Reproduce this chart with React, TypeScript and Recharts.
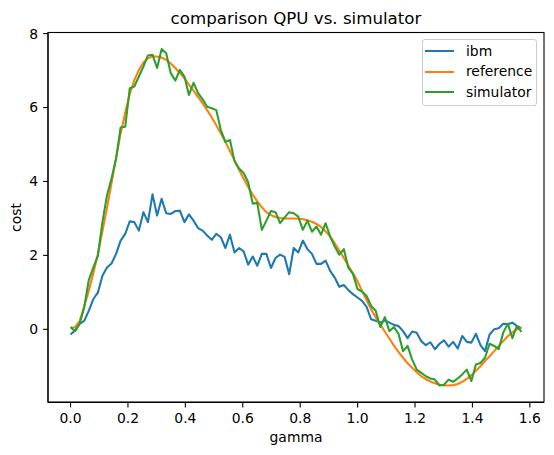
import React from 'react';
import { LineChart, Line, XAxis, YAxis, Legend, Label } from 'recharts';

// gamma sampled on [0, pi/2], 100 points
const gamma = [
  0, 0.0159, 0.0317, 0.0476, 0.0635, 0.0793, 0.0952, 0.1111, 0.1269, 0.1428,
  0.1587, 0.1745, 0.1904, 0.2063, 0.2221, 0.238, 0.2539, 0.2697, 0.2856, 0.3015,
  0.3173, 0.3332, 0.3491, 0.3649, 0.3808, 0.3967, 0.4125, 0.4284, 0.4443, 0.4601,
  0.476, 0.4919, 0.5077, 0.5236, 0.5395, 0.5553, 0.5712, 0.5871, 0.6029, 0.6188,
  0.6347, 0.6505, 0.6664, 0.6823, 0.6981, 0.714, 0.7299, 0.7457, 0.7616, 0.7775,
  0.7933, 0.8092, 0.8251, 0.8409, 0.8568, 0.8727, 0.8885, 0.9044, 0.9203, 0.9361,
  0.952, 0.9679, 0.9837, 0.9996, 1.0155, 1.0313, 1.0472, 1.0631, 1.0789, 1.0948,
  1.1107, 1.1265, 1.1424, 1.1583, 1.1741, 1.19, 1.2059, 1.2217, 1.2376, 1.2535,
  1.2693, 1.2852, 1.3011, 1.3169, 1.3328, 1.3487, 1.3645, 1.3804, 1.3963, 1.4121,
  1.428, 1.4439, 1.4597, 1.4756, 1.4915, 1.5073, 1.5232, 1.5391, 1.5549, 1.5708,
];

const ibm = [
  -0.14, -0.03, 0.15, 0.23, 0.5, 0.82, 0.99, 1.45, 1.67, 1.78,
  2.04, 2.4, 2.58, 2.92, 2.9, 2.67, 3.17, 2.9, 3.65, 3.08,
  3.53, 3.14, 3.12, 3.2, 3.21, 2.9, 3.11, 2.94, 2.74, 2.67,
  2.54, 2.42, 2.58, 2.49, 2.2, 2.56, 2.08, 2.2, 2.11, 1.75,
  1.97, 1.72, 2.04, 2.04, 1.66, 1.93, 2.02, 1.96, 1.49, 2.2,
  2.08, 2.4, 2.17, 2.04, 1.77, 1.77, 1.86, 1.58, 1.4, 1.15,
  1.2, 1.06, 0.95, 0.86, 0.77, 0.61, 0.27, 0.23, 0.18, 0.24,
  0.18, 0.12, 0.09, -0.05, -0.24, -0.06, -0.09, -0.32, -0.43, -0.35,
  -0.54, -0.39, -0.3, -0.47, -0.34, -0.52, -0.18, -0.34, -0.36, -0.12,
  -0.43, -0.59, -0.14, 0.0, 0.03, 0.15, 0.14, 0.18, 0.09, 0.03,
];

const reference = [
  0.03, 0.06, 0.22, 0.62, 1.04, 1.52, 2.03, 2.65, 3.28, 3.96,
  4.64, 5.3, 5.86, 6.36, 6.74, 7.02, 7.22, 7.33, 7.38, 7.38,
  7.35, 7.29, 7.19, 7.07, 6.93, 6.79, 6.62, 6.46, 6.29, 6.11,
  5.93, 5.73, 5.52, 5.3, 5.07, 4.82, 4.57, 4.31, 4.08, 3.85,
  3.64, 3.46, 3.3, 3.17, 3.09, 3.04, 3.01, 3.0, 3.0, 3.0,
  2.99, 2.98, 2.95, 2.91, 2.85, 2.77, 2.65, 2.51, 2.33, 2.13,
  1.93, 1.72, 1.52, 1.3, 1.04, 0.79, 0.54, 0.33, 0.13, -0.06,
  -0.25, -0.44, -0.61, -0.77, -0.92, -1.04, -1.16, -1.27, -1.35, -1.41,
  -1.46, -1.5, -1.52, -1.52, -1.51, -1.48, -1.42, -1.34, -1.24, -1.12,
  -1.0, -0.86, -0.73, -0.59, -0.45, -0.32, -0.19, -0.08, 0.0, 0.04,
];

const simulator = [
  0.06, -0.05, 0.15, 0.59, 1.33, 1.67, 1.99, 2.9, 3.62, 4.08,
  4.62, 5.46, 5.48, 6.52, 6.57, 6.84, 7.11, 7.41, 7.43, 7.07,
  7.58, 7.47, 6.93, 6.73, 7.02, 6.84, 6.34, 6.67, 6.39, 6.22,
  6.02, 5.98, 5.93, 5.39, 5.07, 5.12, 4.55, 4.35, 4.23, 3.98,
  3.4, 3.42, 2.69, 2.94, 3.2, 3.17, 2.87, 3.03, 3.17, 3.14,
  3.05, 2.69, 2.94, 2.64, 2.78, 2.56, 2.87, 2.51, 2.24, 2.02,
  2.17, 1.66, 1.5, 1.09, 1.02, 0.9, 0.63, 0.5, 0.06, 0.33,
  -0.05, 0.06, -0.12, -0.59, -0.45, -0.82, -1.09, -1.18, -1.27, -1.33,
  -1.36, -1.52, -1.5, -1.36, -1.42, -1.33, -1.22, -1.09, -1.4, -0.95,
  -0.91, -0.77, -0.39, -0.45, -0.54, -0.09, 0.15, -0.24, 0.09, -0.07,
];

const xTicks = [0, 0.2, 0.4, 0.6, 0.8, 1.0, 1.2, 1.4, 1.6];
const yTicks = [0, 2, 4, 6, 8];
const title = 'comparison QPU vs. simulator';

const data = gamma.map((g, i) => ({
  gamma: g,
  ibm: ibm[i],
  reference: reference[i],
  simulator: simulator[i],
}));

const FONT = 'DejaVu Sans, sans-serif';
const FS = 13.9;
const X_DOMAIN = [-0.0785, 1.6493];
const Y_DOMAIN = [-1.98, 8.03];
const axisStyle = { stroke: '#000', strokeWidth: 1.1 };

// plot box (matches margin + axis sizes below)
const PLOT = { x: 48, y: 32.5, w: 496, h: 369.5 };

const LegendBox = (props: any) => {
  const { payload } = props;
  return (
    <div
      style={{
        width: 115.6,
        boxSizing: 'border-box',
        background: 'rgba(255,255,255,0.8)',
        border: '1.1px solid #cccccc',
        borderRadius: 3,
        padding: '0.5px 0 2.4px 2.3px',
        fontFamily: FONT,
        fontSize: FS,
        color: '#000',
      }}
    >
      {(payload || []).map((entry: any) => (
        <div key={entry.value} style={{ display: 'flex', alignItems: 'center', height: 20.6 }}>
          <div style={{ width: 29.3, height: 2.1, background: entry.color, marginRight: 11.7 }} />
          <span style={{ lineHeight: '20.6px' }}>{entry.value}</span>
        </div>
      ))}
    </div>
  );
};

const CostLabel = (props: any) => {
  const vb = props.viewBox || { y: PLOT.y, height: PLOT.h };
  const cy = vb.y + vb.height / 2;
  const x = 20.8;
  return (
    <text
      x={x}
      y={cy}
      transform={`rotate(-90 ${x} ${cy})`}
      textAnchor="middle"
      fontFamily={FONT}
      fontSize={FS}
      fill="#000"
    >
      cost
    </text>
  );
};

export default function App() {
  return (
    <div style={{ position: 'absolute', left: 0, top: 0, width: 554, height: 455, background: '#fff' }}>
      <LineChart
        width={554}
        height={455}
        data={data}
        margin={{ top: PLOT.y, right: 10, bottom: 0, left: 0 }}
        style={{ fontFamily: FONT }}
      >
        <XAxis
          dataKey="gamma"
          type="number"
          domain={X_DOMAIN}
          allowDataOverflow
          ticks={xTicks}
          tickFormatter={(v: number) => v.toFixed(1)}
          tick={{ fill: '#000', fontSize: FS, fontFamily: FONT }}
          tickLine={axisStyle}
          axisLine={axisStyle}
          tickSize={4.9}
          tickMargin={6}
          height={52.5}
          interval={0}
        >
          <Label value="gamma" position="insideBottom" offset={13} fill="#000" fontSize={FS} fontFamily={FONT} />
        </XAxis>
        <YAxis
          type="number"
          domain={Y_DOMAIN}
          allowDataOverflow
          ticks={yTicks}
          tick={{ fill: '#000', fontSize: FS, fontFamily: FONT }}
          tickLine={axisStyle}
          axisLine={axisStyle}
          tickSize={4.9}
          tickMargin={5}
          width={48}
          interval={0}
        >
          <Label content={<CostLabel />} />
        </YAxis>
        <Legend
          layout="vertical"
          align="center"
          verticalAlign="middle"
          content={<LegendBox />}
          wrapperStyle={{ position: 'absolute', left: 421.7, top: 39.3, width: 115.6, height: 'auto' }}
        />
        <Line type="linear" dataKey="ibm" name="ibm" stroke="#1f77b4" strokeWidth={2.08} strokeLinejoin="round" dot={false} activeDot={false} isAnimationActive={false} />
        <Line type="linear" dataKey="reference" name="reference" stroke="#ff7f0e" strokeWidth={2.08} strokeLinejoin="round" dot={false} activeDot={false} isAnimationActive={false} />
        <Line type="linear" dataKey="simulator" name="simulator" stroke="#2ca02c" strokeWidth={2.08} strokeLinejoin="round" dot={false} activeDot={false} isAnimationActive={false} />
      </LineChart>
      {/* frame + title, drawn over the chart like matplotlib's spines */}
      <svg
        width={554}
        height={455}
        style={{ position: 'absolute', left: 0, top: 0, pointerEvents: 'none' }}
      >
        <rect x={PLOT.x} y={PLOT.y} width={PLOT.w} height={PLOT.h} fill="none" stroke="#000" strokeWidth={1.1} />
        <text x={PLOT.x + PLOT.w / 2} y={24} textAnchor="middle" fontFamily={FONT} fontSize={16.67} fill="#000">
          {title}
        </text>
      </svg>
    </div>
  );
}
